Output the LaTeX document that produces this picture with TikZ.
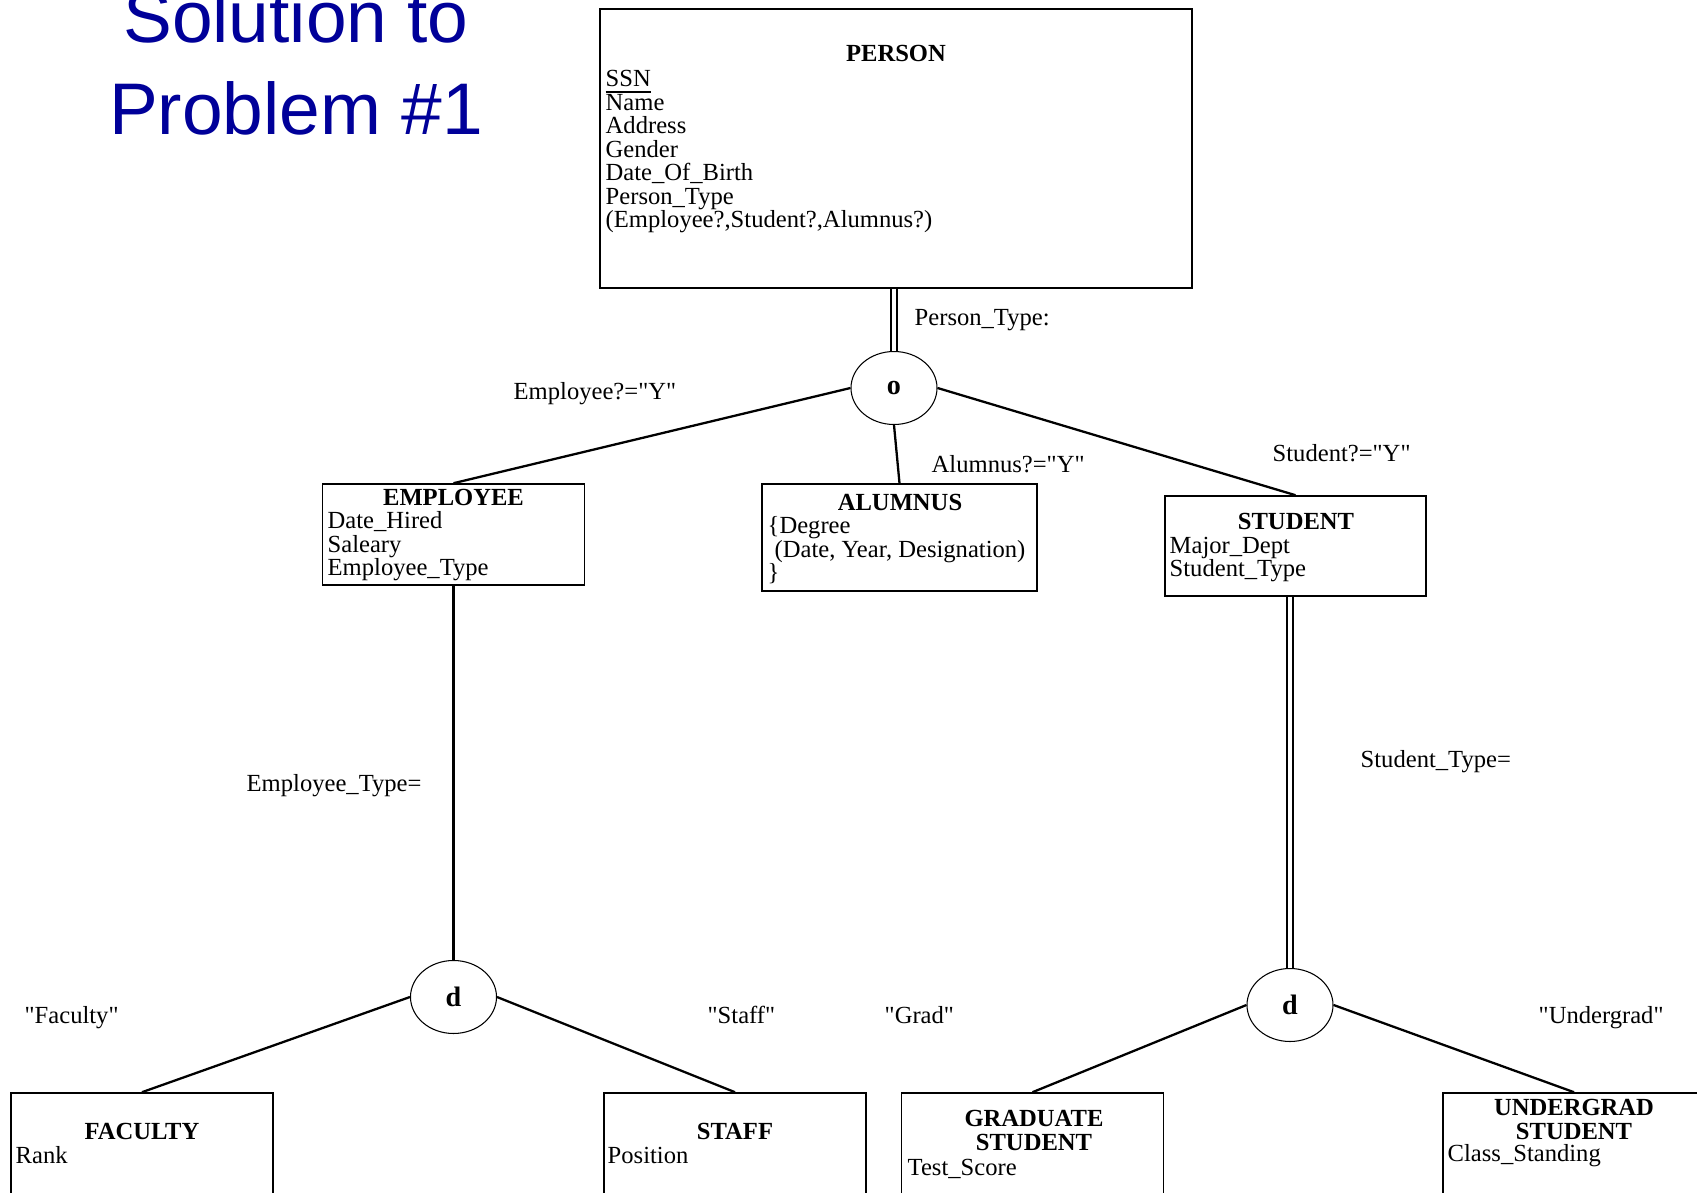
\documentclass[tikz,border=0pt]{standalone}
\usepackage{fontspec}
\setmainfont{Liberation Serif}
\newfontfamily\titlefont{Liberation Sans}
\usepackage{tikz}
\usetikzlibrary{shapes.geometric}
\definecolor{titleblue}{RGB}{0,0,153}
\newcommand{\qt}[1]{\textquotedbl#1\textquotedbl}

\begin{document}
\begin{tikzpicture}[
    font=\fontsize{7}{6.7}\selectfont,
    title/.style={font=\titlefont\fontsize{20.8}{25}\selectfont,text=titleblue,inner sep=0pt,anchor=base},
    box/.style={draw,line width=0.45pt,inner sep=0pt,minimum width=2.62cm},
    head/.style={font=\fontsize{7}{6.7}\selectfont\bfseries,inner sep=0pt,anchor=base,align=center},
    attr/.style={inner sep=0pt,anchor=base west,align=left},
    lbl/.style={inner sep=0pt,anchor=base west},
    isa/.style={draw,ellipse,line width=0.3pt,minimum width=0.86cm,minimum height=0.73cm,inner sep=0pt,font=\fontsize{8}{8}\selectfont\bfseries},
    link/.style={line width=0.65pt},
    total/.style={double,line width=0.45pt,double distance=1.3pt}
  ]
        \clip (0,0) rectangle (16.97,-11.93);

        \node[title] (t1) at (2.96,-0.43) {Solution to};
        \node[title] (t2) at (2.96,-1.35) {Problem \#1};

        \node[box,minimum width=5.92cm,minimum height=2.79cm] (person) at (8.96,-1.485) {};
        \node[head] (personhd) at (8.96,-0.62) {PERSON};
        \node[attr] (personat) at (6.05,-2.28) {\underline{SSN}\\Name\\Address\\Gender\\Date\_Of\_Birth\\Person\_Type\\(Employee?,Student?,Alumnus?)};

        \node[isa] (o) at (8.94,-3.88) {o};
        \node[lbl] (ptype) at (9.14,-3.26) {Person\_Type:};

        \node[box,minimum height=1.01cm] (employee) at (4.535,-5.345) {};
        \node[head] (employeehd) at (4.535,-5.06) {EMPLOYEE};
        \node[attr] (employeeat) at (3.27,-5.76) {Date\_Hired\\Saleary\\Employee\_Type};

        \node[box,minimum width=2.75cm,minimum height=1.07cm] (alumnus) at (8.995,-5.375) {};
        \node[head] (alumnushd) at (9.0,-5.11) {ALUMNUS};
        \node[attr] (alumnusat) at (7.67,-5.81) {\{Degree\\\hspace*{2pt}(Date, Year, Designation)\\\}};

        \node[box,minimum width=2.61cm,minimum height=1.0cm] (student) at (12.955,-5.46) {};
        \node[head] (studenthd) at (12.96,-5.30) {STUDENT};
        \node[attr] (studentat) at (11.69,-5.77) {Major\_Dept\\Student\_Type};

        \node[lbl] (empy) at (5.13,-4.0) {Employee?=\qt{Y}};
        \node[lbl] (alumy) at (9.31,-4.73) {Alumnus?=\qt{Y}};
        \node[lbl] (study) at (12.72,-4.62) {Student?=\qt{Y}};

        \draw[total] (o.north |- person.south) to (o.north);
        \draw[link] (o.west) to (employee.north);
        \draw[link] (o.south) to (alumnus.north);
        \draw[link] (o.east) to (student.north);

        \node[isa] (d1) at (4.535,-9.97) {d};
        \node[isa] (d2) at (12.90,-10.05) {d};
        \node[lbl] (etype) at (2.46,-7.92) {Employee\_Type=};
        \node[lbl] (stype) at (13.60,-7.68) {Student\_Type=};

        \draw[link] (employee.south) to (d1.north);
        \draw[total] (d2.north |- student.south) to (d2.north);

        \node[box,minimum height=1.27cm] (faculty) at (1.42,-11.565) {};
        \node[head] (facultyhd) at (1.42,-11.39) {FACULTY};
        \node[attr] (facultyat) at (0.15,-11.63) {Rank};

        \node[box,minimum height=1.27cm] (staff) at (7.35,-11.565) {};
        \node[head] (staffhd) at (7.35,-11.39) {STAFF};
        \node[attr] (staffat) at (6.07,-11.63) {Position};

        \node[box,minimum height=1.27cm] (grad) at (10.325,-11.565) {};
        \node[head] (gradhd) at (10.34,-11.50) {GRADUATE\\STUDENT};
        \node[attr] (gradat) at (9.07,-11.75) {Test\_Score};

        \node[box,minimum height=1.27cm] (ugrad) at (15.74,-11.565) {};
        \node[head] (ugradhd) at (15.74,-11.39) {UNDERGRAD\\STUDENT};
        \node[attr] (ugradat) at (14.47,-11.61) {Class\_Standing};

        \node[lbl] (fac) at (0.24,-10.23) {\qt{Faculty}};
        \node[lbl] (stf) at (7.07,-10.23) {\qt{Staff}};
        \node[lbl] (grd) at (8.84,-10.23) {\qt{Grad}};
        \node[lbl] (ugr) at (15.38,-10.23) {\qt{Undergrad}};

        \draw[link] (d1.west) to (faculty.north);
        \draw[link] (d1.east) to (staff.north);
        \draw[link] (d2.west) to (grad.north);
        \draw[link] (d2.east) to (ugrad.north);
      \end{tikzpicture}
\end{document}
